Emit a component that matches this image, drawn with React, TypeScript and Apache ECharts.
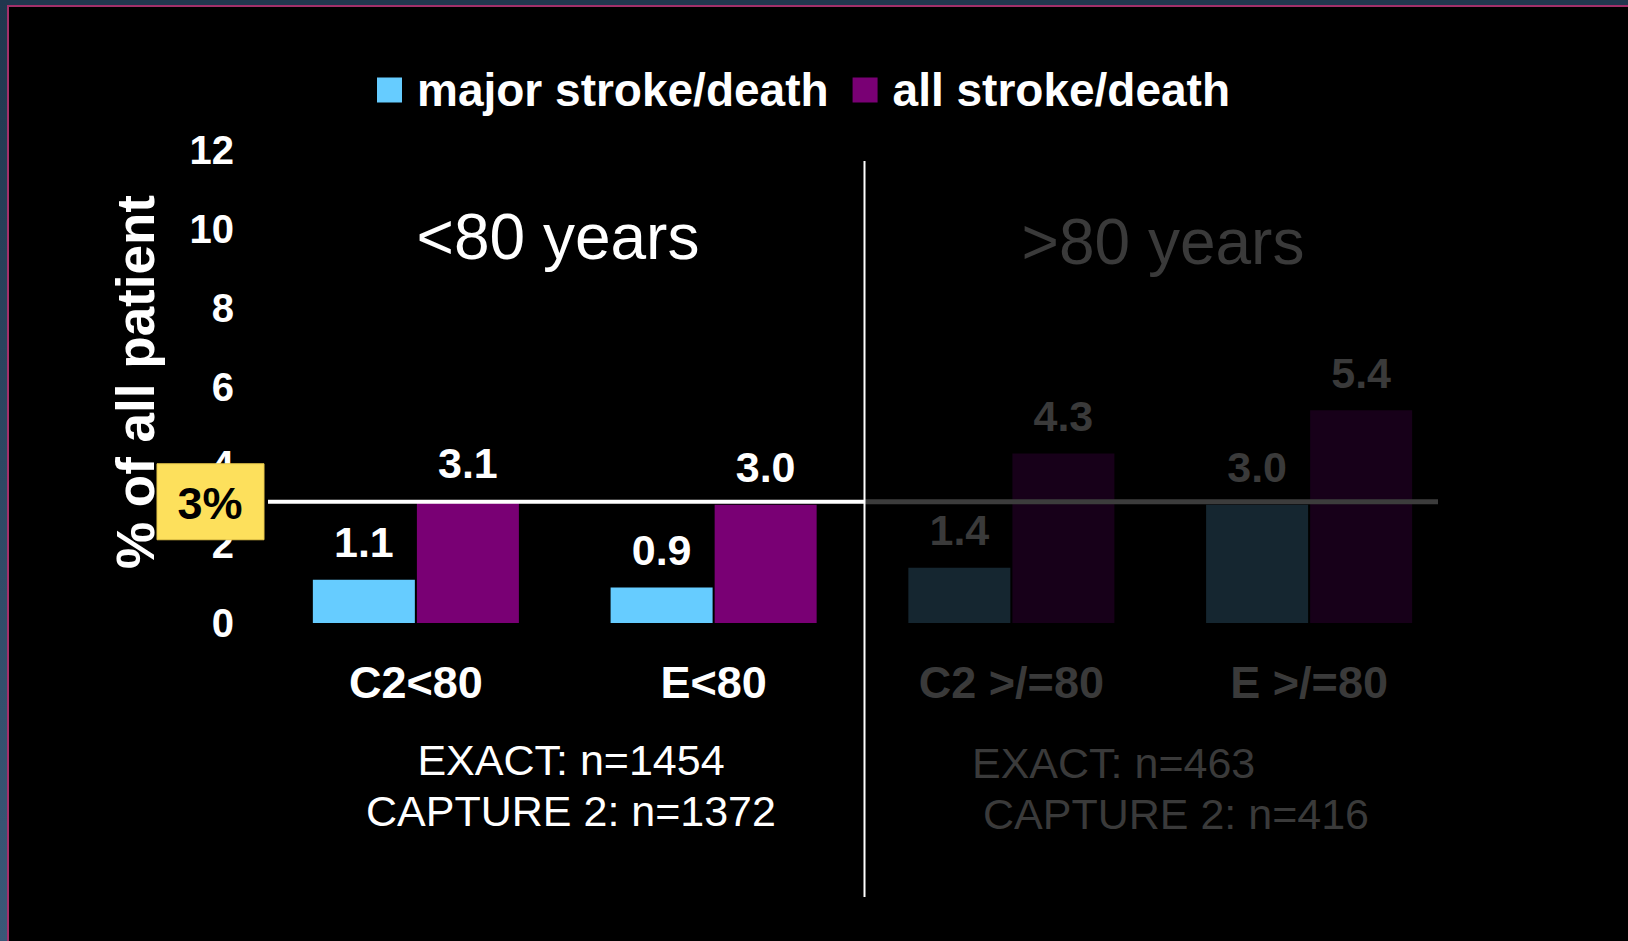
import React, { useEffect, useRef } from 'react';
import * as echarts from 'echarts';

const categories = ['C2<80', 'E<80', 'C2 >/=80', 'E >/=80'];
const majorValues = [1.1, 0.9, 1.4, 3.0];
const allValues = [3.1, 3.0, 4.3, 5.4];
const dimmed = [false, false, true, true];
const seriesNames = ['major stroke/death', 'all stroke/death'];
const yMin = 0;
const yMax = 12;
const yInterval = 2;
const threshold = 3;
const thresholdLabel = '3%';
const groupTitles = ['<80 years', '>80 years'];
const leftNotes = ['EXACT: n=1454', 'CAPTURE 2: n=1372'];
const rightNotes = ['EXACT: n=463', 'CAPTURE 2: n=416'];
const yTitle = '% of all patient';

const FONT = '"Liberation Sans", Arial, Helvetica, sans-serif';
const WHITE = '#ffffff';
const DIM = '#3a3a3a';
const BLUE = '#66ccff';
const PURPLE = '#790074';
const DIM_BLUE = '#152630';
const DIM_PURPLE = '#170019';

export default function App() {
  const ref = useRef<HTMLDivElement>(null);

  useEffect(() => {
    const chart = echarts.init(ref.current!, null, { renderer: 'svg' });

    const mkData = (vals: number[], color: string, dimColor: string) =>
      vals.map((v, i) => ({
        value: v,
        itemStyle: { color: dimmed[i] ? dimColor : color },
        label: { color: dimmed[i] ? DIM : WHITE },
      }));

    const valueLabel = {
      show: true,
      position: 'top',
      distance: 16,
      fontSize: 43,
      fontWeight: 'bold',
      fontFamily: FONT,
      formatter: (p: any) => Number(p.value).toFixed(1),
    };

    chart.setOption({
      animation: false,
      backgroundColor: '#000000',
      textStyle: { fontFamily: FONT },
      legend: {
        data: [
          { name: seriesNames[0], itemStyle: { color: BLUE } },
          { name: seriesNames[1], itemStyle: { color: PURPLE } },
        ],
        left: 372,
        top: 62,
        icon: 'rect',
        itemWidth: 25,
        itemHeight: 25,
        itemGap: 24,
        textStyle: {
          color: WHITE,
          fontSize: 46,
          fontWeight: 'bold',
          fontFamily: FONT,
          padding: [0, 0, 0, 10],
        },
      },
      grid: { left: 267, right: 170, top: 150, bottom: 318, containLabel: false },
      xAxis: {
        type: 'category',
        data: categories.map((c, i) => ({
          value: c,
          textStyle: { color: dimmed[i] ? DIM : WHITE },
        })),
        axisLine: { show: false },
        axisTick: { show: false },
        axisLabel: {
          fontSize: 45,
          fontWeight: 'bold',
          fontFamily: FONT,
          margin: 37,
        },
      },
      yAxis: {
        type: 'value',
        min: yMin,
        max: yMax,
        interval: yInterval,
        axisLine: { show: false },
        axisTick: { show: false },
        splitLine: { show: false },
        axisLabel: {
          color: WHITE,
          fontSize: 40,
          fontWeight: 'bold',
          fontFamily: FONT,
          margin: 33,
        },
      },
      series: [
        {
          name: seriesNames[0],
          type: 'bar',
          barWidth: 102,
          barGap: '2%',
          data: mkData(majorValues, BLUE, DIM_BLUE),
          label: valueLabel,
        },
        {
          name: seriesNames[1],
          type: 'bar',
          barWidth: 102,
          data: mkData(allValues, PURPLE, DIM_PURPLE),
          label: valueLabel,
        },
      ],
    });

    const yT = (chart.convertToPixel({ yAxisIndex: 0 }, threshold) as number) - 3;
    const x1 = chart.convertToPixel({ xAxisIndex: 0 }, categories[1]) as number;
    const x2 = chart.convertToPixel({ xAxisIndex: 0 }, categories[2]) as number;
    const xDiv = (x1 + x2) / 2 + 2;

    chart.setOption({
      graphic: [
        // slide frame
        { type: 'rect', shape: { x: 0, y: 0, width: 1628, height: 6 }, style: { fill: '#21374e' }, z: 10 },
        {
          type: 'rect',
          shape: { x: 0, y: 0, width: 7, height: 941 },
          style: {
            fill: new echarts.graphic.LinearGradient(0, 0, 0, 1, [
              { offset: 0, color: '#21374e' },
              { offset: 1, color: '#3a5877' },
            ]),
          },
          z: 10,
        },
        { type: 'rect', shape: { x: 7, y: 5, width: 1621, height: 2 }, style: { fill: '#a3306a' }, z: 11 },
        { type: 'rect', shape: { x: 7, y: 5, width: 2, height: 936 }, style: { fill: '#a3306a' }, z: 11 },
        // threshold line
        { type: 'line', shape: { x1: 268, y1: yT, x2: xDiv, y2: yT }, style: { stroke: WHITE, lineWidth: 4 }, z: 20 },
        { type: 'line', shape: { x1: xDiv, y1: yT, x2: 1438, y2: yT }, style: { stroke: '#3c3c3c', lineWidth: 5 }, z: 20 },
        // divider
        { type: 'line', shape: { x1: xDiv, y1: 161, x2: xDiv, y2: 897 }, style: { stroke: WHITE, lineWidth: 2 }, z: 21 },
        // threshold box
        {
          type: 'rect',
          shape: { x: 157, y: yT - 38, width: 107, height: 76 },
          style: { fill: '#fde05c', stroke: '#e8c84a', lineWidth: 1 },
          z: 30,
        },
        {
          type: 'text',
          x: 210,
          y: yT + 2,
          style: {
            text: thresholdLabel,
            fill: '#000000',
            font: `bold 45px ${FONT}`,
            textAlign: 'center',
            textVerticalAlign: 'middle',
          },
          z: 31,
        },
        // y title
        {
          type: 'text',
          x: 135,
          y: 382,
          rotation: Math.PI / 2,
          style: {
            text: yTitle,
            fill: WHITE,
            font: `bold 53px ${FONT}`,
            textAlign: 'center',
            textVerticalAlign: 'middle',
          },
          z: 25,
        },
        // group titles
        {
          type: 'text',
          x: 558,
          y: 237,
          style: { text: groupTitles[0], fill: WHITE, font: `64px ${FONT}`, textAlign: 'center', textVerticalAlign: 'middle' },
        },
        {
          type: 'text',
          x: 1163,
          y: 242,
          style: { text: groupTitles[1], fill: DIM, font: `64px ${FONT}`, textAlign: 'center', textVerticalAlign: 'middle' },
        },
        // notes
        {
          type: 'text',
          x: 571,
          y: 760,
          style: { text: leftNotes[0], fill: WHITE, font: `43px ${FONT}`, textAlign: 'center', textVerticalAlign: 'middle' },
        },
        {
          type: 'text',
          x: 571,
          y: 811,
          style: { text: leftNotes[1], fill: WHITE, font: `43px ${FONT}`, textAlign: 'center', textVerticalAlign: 'middle' },
        },
        {
          type: 'text',
          x: 972,
          y: 763,
          style: { text: rightNotes[0], fill: DIM, font: `43px ${FONT}`, textAlign: 'left', textVerticalAlign: 'middle' },
        },
        {
          type: 'text',
          x: 983,
          y: 814,
          style: { text: rightNotes[1], fill: DIM, font: `43px ${FONT}`, textAlign: 'left', textVerticalAlign: 'middle' },
        },
      ],
    });

    return () => chart.dispose();
  }, []);

  return (
    <div
      ref={ref}
      style={{ position: 'fixed', left: 0, top: 0, width: 1628, height: 941 }}
    />
  );
}
